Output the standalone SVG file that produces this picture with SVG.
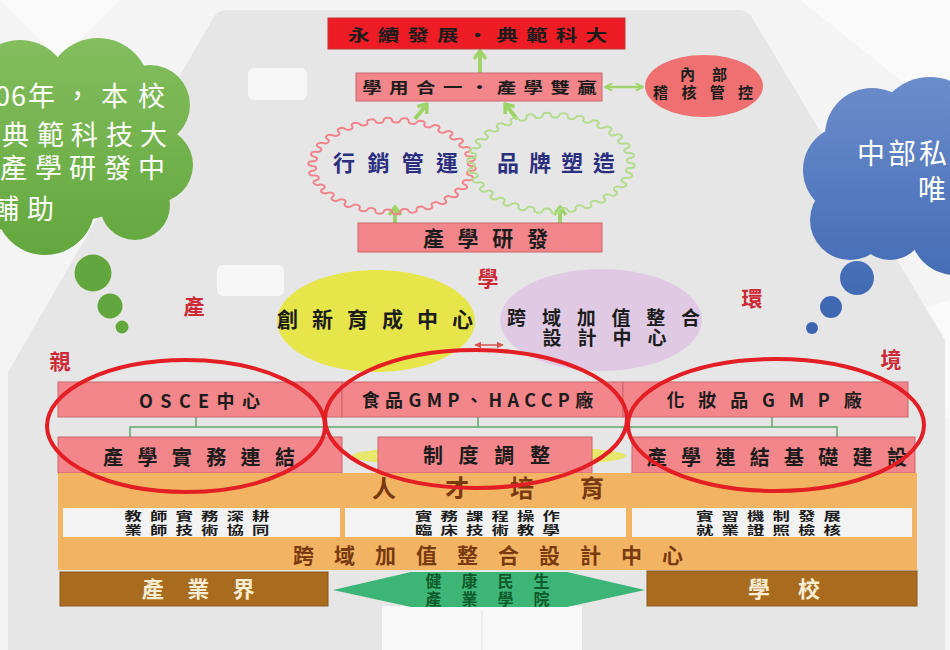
<svg xmlns="http://www.w3.org/2000/svg" width="950" height="650" viewBox="0 0 950 650">
<defs>
<style>
.t{font-family:"Noto Sans CJK TC","Noto Sans CJK SC",sans-serif;}
.b{font-weight:700;}
.c{text-anchor:middle;}
.box{fill:#f3868b;stroke:#c9676b;stroke-width:1;}
.dark{fill:#1c1c1c;}
.navy{fill:#2b2f7f;}
.brown{fill:#7a3a10;}
.redlbl{fill:#cc2a36;font-size:21px;font-weight:700;text-anchor:middle;}
.conn{stroke:#5fa86a;stroke-width:1.5;fill:none;}
.ga{stroke:#9ed36a;stroke-width:4;fill:none;marker-end:url(#gh);}
.ring{fill:none;stroke:#e31e24;stroke-width:4;}
.gearp{fill:none;vector-effect:non-scaling-stroke;}
.wt{fill:#ffffff;}
</style>
<linearGradient id="gcl" gradientUnits="userSpaceOnUse" x1="0" y1="35" x2="0" y2="260"><stop offset="0" stop-color="#84be5e"/><stop offset="1" stop-color="#62a73d"/></linearGradient>
<linearGradient id="bcl" gradientUnits="userSpaceOnUse" x1="0" y1="75" x2="0" y2="335"><stop offset="0" stop-color="#6b8dcb"/><stop offset="1" stop-color="#3a64b0"/></linearGradient>
<marker id="gh" viewBox="0 0 12 16" refX="10" refY="8" markerWidth="12" markerHeight="16" markerUnits="userSpaceOnUse" orient="auto"><path d="M2,2 L10,8 L2,14" fill="none" stroke="#9ed36a" stroke-width="3.5" stroke-linejoin="miter"/></marker>
<marker id="gh2" viewBox="0 0 10 10" refX="9" refY="5" markerWidth="9" markerHeight="9" markerUnits="userSpaceOnUse" orient="auto-start-reverse"><path d="M1,1 L9,5 L1,9" fill="none" stroke="#9ed36a" stroke-width="2"/></marker>
<marker id="rh" viewBox="0 0 10 10" refX="9" refY="5" markerWidth="7" markerHeight="7" markerUnits="userSpaceOnUse" orient="auto-start-reverse"><path d="M0,0 L10,5 L0,10 Z" fill="#d9534f"/></marker>
<path id="gear" class="gearp" d="M100,0 A5.24 5.24 0 0 1 99.45,10.45 A5.24 5.24 0 0 0 97.81,20.79 A5.24 5.24 0 0 1 95.11,30.90 A5.24 5.24 0 0 0 91.35,40.67 A5.24 5.24 0 0 1 86.60,50 A5.24 5.24 0 0 0 80.90,58.78 A5.24 5.24 0 0 1 74.31,66.91 A5.24 5.24 0 0 0 66.91,74.31 A5.24 5.24 0 0 1 58.78,80.90 A5.24 5.24 0 0 0 50,86.60 A5.24 5.24 0 0 1 40.67,91.35 A5.24 5.24 0 0 0 30.90,95.11 A5.24 5.24 0 0 1 20.79,97.81 A5.24 5.24 0 0 0 10.45,99.45 A5.24 5.24 0 0 1 0,100 A5.24 5.24 0 0 0 -10.45,99.45 A5.24 5.24 0 0 1 -20.79,97.81 A5.24 5.24 0 0 0 -30.90,95.11 A5.24 5.24 0 0 1 -40.67,91.35 A5.24 5.24 0 0 0 -50,86.60 A5.24 5.24 0 0 1 -58.78,80.90 A5.24 5.24 0 0 0 -66.91,74.31 A5.24 5.24 0 0 1 -74.31,66.91 A5.24 5.24 0 0 0 -80.90,58.78 A5.24 5.24 0 0 1 -86.60,50 A5.24 5.24 0 0 0 -91.35,40.67 A5.24 5.24 0 0 1 -95.11,30.90 A5.24 5.24 0 0 0 -97.81,20.79 A5.24 5.24 0 0 1 -99.45,10.45 A5.24 5.24 0 0 0 -100,0 A5.24 5.24 0 0 1 -99.45,-10.45 A5.24 5.24 0 0 0 -97.81,-20.79 A5.24 5.24 0 0 1 -95.11,-30.90 A5.24 5.24 0 0 0 -91.35,-40.67 A5.24 5.24 0 0 1 -86.60,-50 A5.24 5.24 0 0 0 -80.90,-58.78 A5.24 5.24 0 0 1 -74.31,-66.91 A5.24 5.24 0 0 0 -66.91,-74.31 A5.24 5.24 0 0 1 -58.78,-80.90 A5.24 5.24 0 0 0 -50,-86.60 A5.24 5.24 0 0 1 -40.67,-91.35 A5.24 5.24 0 0 0 -30.90,-95.11 A5.24 5.24 0 0 1 -20.79,-97.81 A5.24 5.24 0 0 0 -10.45,-99.45 A5.24 5.24 0 0 1 0,-100 A5.24 5.24 0 0 0 10.45,-99.45 A5.24 5.24 0 0 1 20.79,-97.81 A5.24 5.24 0 0 0 30.90,-95.11 A5.24 5.24 0 0 1 40.67,-91.35 A5.24 5.24 0 0 0 50,-86.60 A5.24 5.24 0 0 1 58.78,-80.90 A5.24 5.24 0 0 0 66.91,-74.31 A5.24 5.24 0 0 1 74.31,-66.91 A5.24 5.24 0 0 0 80.90,-58.78 A5.24 5.24 0 0 1 86.60,-50 A5.24 5.24 0 0 0 91.35,-40.67 A5.24 5.24 0 0 1 95.11,-30.90 A5.24 5.24 0 0 0 97.81,-20.79 A5.24 5.24 0 0 1 99.45,-10.45 A5.24 5.24 0 0 0 100,0 Z"/>
</defs>

<!-- background -->
<rect x="0" y="0" width="950" height="650" fill="#f4f4f4"/>
<polygon points="0,0 120,0 60,60" fill="#ffffff" opacity="0.5"/>
<polygon points="800,0 950,0 950,120" fill="#ffffff" opacity="0.5"/>
<polygon points="860,330 950,300 950,420" fill="#ffffff" opacity="0.5"/>
<path d="M226,10 L738,10 Q748,10 753,19 L945,340 L945,650 L8,650 L8,372 L212,20 Q217,10 226,10 Z" fill="#e6e6e6"/>
<rect x="248" y="68" width="59" height="32" rx="6" fill="#f6f6f6"/>
<rect x="217" y="265" width="67" height="31" rx="6" fill="#f6f6f6"/>
<rect x="382" y="606" width="200" height="44" fill="#f8f8f8"/>
<line x1="482" y1="610" x2="482" y2="650" stroke="#e2e2e2" stroke-width="1"/>

<!-- green thought cloud -->
<g id="cloud-green">
<g fill="url(#gcl)">
<circle cx="98" cy="90" r="52"/>
<circle cx="150" cy="105" r="40"/>
<circle cx="155" cy="165" r="38"/>
<circle cx="135" cy="205" r="35"/>
<circle cx="45" cy="205" r="50"/>
<circle cx="20" cy="90" r="50"/>
<circle cx="80" cy="150" r="70"/>
<circle cx="10" cy="160" r="70"/>
<circle cx="93" cy="273" r="18.5"/>
<circle cx="110" cy="306" r="12.5"/>
<circle cx="122" cy="327" r="6.5"/>
</g>
<g class="t wt" font-size="27">
<text x="-5 11 28 64 101 138" y="106">06年，本校</text>
<text x="2 37 71 106 140" y="145">典範科技大</text>
<text x="0 35 69 104 138" y="178">產學研發中</text>
<text x="-8 27" y="219">輔助</text>
</g>
</g>

<!-- blue thought cloud -->
<g id="cloud-blue">
<g fill="url(#bcl)">
<circle cx="930" cy="132" r="55"/>
<circle cx="872" cy="135" r="47"/>
<circle cx="848" cy="170" r="45"/>
<circle cx="850" cy="220" r="40"/>
<circle cx="890" cy="225" r="35"/>
<circle cx="955" cy="230" r="45"/>
<circle cx="910" cy="180" r="60"/>
<circle cx="857" cy="278" r="17"/>
<circle cx="831" cy="307" r="11"/>
<circle cx="812" cy="328" r="6"/>
</g>
<g class="t wt" font-size="28">
<text x="857" y="164" letter-spacing="3">中部私</text>
<text x="918" y="200">唯</text>
</g>
</g>

<!-- connectors -->
<g id="connectors">
<line class="ga" x1="480" y1="73" x2="480" y2="51"/>
<line class="ga" x1="415" y1="119" x2="427" y2="104"/>
<line class="ga" x1="517" y1="119" x2="505" y2="104"/>
<line class="ga" x1="395" y1="226" x2="395" y2="207"/>
<line class="ga" x1="560" y1="226" x2="560" y2="207"/>
<line x1="605" y1="87" x2="643" y2="87" stroke="#9ed36a" stroke-width="2.5" marker-start="url(#gh2)" marker-end="url(#gh2)"/>
<line x1="475" y1="345" x2="503" y2="345" stroke="#d9534f" stroke-width="1.5" marker-start="url(#rh)" marker-end="url(#rh)"/>
<path class="conn" d="M196,417 V427 M478,417 V427 M772,417 V427 M130,437 V427 H837 V437"/>
</g>

<!-- top nodes -->
<g id="goal">
<rect x="328" y="18" width="297" height="31" fill="#ee1c25" stroke="#c4373b" stroke-width="1"/>
<text class="t b c dark" transform="translate(477.5 0) scale(1.35 1)" x="3" y="41" font-size="16" letter-spacing="6">永續發展‧典範科大</text>
</g>
<g id="win-win">
<rect class="box" x="356" y="73" width="246" height="28"/>
<text class="t b c dark" transform="translate(479.5 0) scale(1.3 1)" x="2.85" y="93" font-size="15" letter-spacing="5.7">學用合一‧產學雙贏</text>
</g>
<g id="audit">
<ellipse cx="704" cy="86" rx="59" ry="31" fill="#ef7070"/>
<text class="t b c dark" x="712" y="80" font-size="15" letter-spacing="17">內部</text>
<text class="t b c dark" x="709.7" y="98" font-size="15" letter-spacing="13.3">稽核管控</text>
</g>

<!-- gears -->
<g id="gear-marketing">
<use href="#gear" transform="translate(392,166) scale(0.8,0.46)" stroke="#f0848a" stroke-width="2"/>
<text class="t b c navy" x="401.7" y="171" font-size="22" letter-spacing="12.3">行銷管運</text>
</g>
<g id="gear-brand">
<use href="#gear" transform="translate(551,163) scale(0.8,0.48)" stroke="#b3dc8e" stroke-width="2"/>
<text class="t b c navy" x="561" y="171" font-size="22" letter-spacing="10">品牌塑造</text>
</g>
<g id="rd">
<rect class="box" x="358" y="223" width="244" height="29"/>
<text class="t b c dark" x="492.3" y="246" font-size="21" letter-spacing="13.7">產學研發</text>
</g>

<!-- centers -->
<g id="incubation">
<ellipse cx="376" cy="321" rx="99" ry="51" fill="#e6e64a"/>
<text class="t b c dark" x="382" y="327" font-size="21" letter-spacing="14">創新育成中心</text>
</g>
<g id="design-center">
<ellipse cx="601" cy="320" rx="101" ry="51" fill="#dfc9e3"/>
<text class="t b c dark" x="611.5" y="325" font-size="19" letter-spacing="15.8">跨域加值整合</text>
<text class="t b c dark" x="612.5" y="345" font-size="19" letter-spacing="16">設計中心</text>
</g>

<!-- row 1 -->
<g id="osce">
<rect class="box" x="58" y="382" width="284" height="35"/>
<text class="t b c dark" x="203.2" y="408" font-size="18" letter-spacing="7.4">OSCE中心</text>
</g>
<g id="food-gmp">
<rect class="box" x="342" y="382" width="281" height="35"/>
<text class="t b c dark" x="480.2" y="407" font-size="18" letter-spacing="5.4">食品GMP、HACCP廠</text>
</g>
<g id="cosmetic-gmp">
<rect class="box" x="623" y="382" width="285" height="35"/>
<text class="t b c dark" x="771" y="407" font-size="18" letter-spacing="13.8">化妝品GMP廠</text>
</g>

<!-- row 2 -->
<ellipse cx="489" cy="456" rx="137" ry="11" fill="#e8e86a"/>
<g id="practice-link">
<rect class="box" x="58" y="437" width="284" height="36"/>
<text class="t b c dark" x="206.2" y="465" font-size="20" letter-spacing="14.4">產學實務連結</text>
</g>
<g id="system">
<rect class="box" x="378" y="437" width="214" height="36"/>
<text class="t b c dark" x="494.3" y="463" font-size="20" letter-spacing="15.7">制度調整</text>
</g>
<g id="infra">
<rect class="box" x="632" y="437" width="283" height="36"/>
<text class="t b c dark" x="784" y="465" font-size="20" letter-spacing="14.3">產學連結基礎建設</text>
</g>

<!-- talent band -->
<g id="talent">
<rect x="58" y="473" width="859" height="97" fill="#f2b463"/>
<text class="t b brown" x="372 445 510 580" y="497" font-size="24">人才培育</text>
<rect x="63" y="508" width="277" height="29" fill="#f3f3f3"/>
<rect x="345" y="508" width="281" height="29" fill="#f3f3f3"/>
<rect x="632" y="508" width="280" height="29" fill="#f3f3f3"/>
<g class="t b c dark" font-size="12" letter-spacing="5.6">
<text transform="translate(197 0) scale(1.45 1)" x="2.8" y="521">教師實務深耕</text>
<text transform="translate(197 0) scale(1.45 1)" x="2.8" y="535">業師技術協同</text>
<text transform="translate(487.5 0) scale(1.45 1)" x="2.8" y="521">實務課程操作</text>
<text transform="translate(487.5 0) scale(1.45 1)" x="2.8" y="535">臨床技術教學</text>
<text transform="translate(768.5 0) scale(1.45 1)" x="2.8" y="521">實習機制發展</text>
<text transform="translate(768.5 0) scale(1.45 1)" x="2.8" y="535">就業證照檢核</text>
</g>
<text class="t b c brown" x="498" y="563" font-size="21" letter-spacing="20">跨域加值整合設計中心</text>
</g>

<!-- bottom -->
<g id="industry">
<rect x="60" y="572" width="268" height="34" fill="#a96c1f" stroke="#8c5618" stroke-width="1"/>
<text class="t b c" x="210" y="597" font-size="22" letter-spacing="23.5" fill="#f8ecd2">產業界</text>
</g>
<g id="school">
<rect x="647" y="571" width="270" height="35" fill="#a96c1f" stroke="#8c5618" stroke-width="1"/>
<text class="t b c" x="798" y="597" font-size="22" letter-spacing="28" fill="#f8ecd2">學校</text>
</g>
<g id="college">
<polygon points="333,590 411,572 567,572 645,590 567,607 411,607" fill="#3db577"/>
<text class="t b c" x="497.5" y="587" font-size="16" letter-spacing="20" fill="#0d5a2a">健康民生</text>
<text class="t b c" x="497.5" y="605" font-size="16" letter-spacing="20" fill="#0d5a2a">產業學院</text>
</g>

<!-- highlight rings -->
<g id="rings">
<ellipse class="ring" cx="186" cy="426" rx="139" ry="66"/>
<ellipse class="ring" cx="476" cy="419" rx="151" ry="69"/>
<ellipse class="ring" cx="776" cy="425" rx="148" ry="66"/>
</g>

<!-- side labels -->
<g id="labels" class="t">
<text class="redlbl" x="194" y="314">產</text>
<text class="redlbl" x="488" y="286">學</text>
<text class="redlbl" x="752" y="306">環</text>
<text class="redlbl" x="891" y="367">境</text>
<text class="redlbl" x="60" y="369">親</text>
</g>
</svg>
